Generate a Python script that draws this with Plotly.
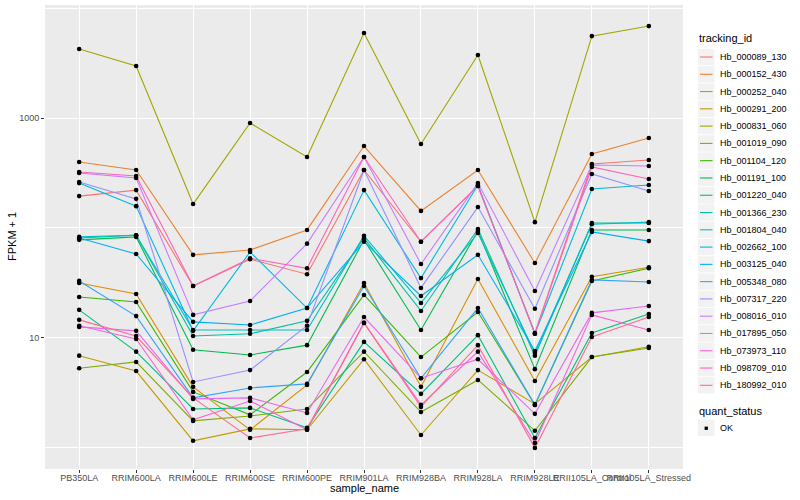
import plotly.graph_objects as go

samples = ["PB350LA", "RRIM600LA", "RRIM600LE", "RRIM600SE", "RRIM600PE", "RRIM901LA",
           "RRIM928BA", "RRIM928LA", "RRIM928LE", "RRII105LA_Control", "RRII105LA_Stressed"]

tracking_ids = ["Hb_000089_130", "Hb_000152_430", "Hb_000252_040", "Hb_000291_200", "Hb_000831_060",
                "Hb_001019_090", "Hb_001104_120", "Hb_001191_100", "Hb_001220_040", "Hb_001366_230",
                "Hb_001804_040", "Hb_002662_100", "Hb_003125_040", "Hb_005348_080", "Hb_007317_220",
                "Hb_008016_010", "Hb_017895_050", "Hb_073973_110", "Hb_098709_010", "Hb_180992_010"]

quant_status = ["OK"]

# FPKM + 1 per tracking_id, in sample order
Hb_000089_130 = [195, 221, 29.7, 52, 38, 337, 75, 241, 11.1, 382, 415]
Hb_000152_430 = [398, 337, 57, 63, 96, 556, 143, 337, 48, 471, 658]
Hb_000252_040 = [31.6, 25.1, 3.59, 1.46, 3.74, 31.6, 3.59, 34.4, 4.06, 36, 44]
Hb_000291_200 = [6.9, 5.0, 1.16, 1.49, 1.46, 6.4, 1.31, 5.1, 2.51, 6.7, 8.3]
Hb_000831_060 = [4240, 2970, 165, 902, 442, 5930, 581, 3740, 113, 5560, 6860]
Hb_001019_090 = [5.3, 6.05, 1.76, 1.95, 2.26, 7.5, 2.12, 4.15, 1.43, 6.7, 8.1]
Hb_001104_120 = [23.6, 21.2, 3.23, 2.0, 4.9, 24.6, 6.7, 17.2, 2.46, 33, 43]
Hb_001191_100 = [78, 83, 7.8, 7.0, 8.6, 78, 11.8, 94, 5.2, 96, 96]
Hb_001220_040 = [18, 7.5, 2.26, 2.31, 1.52, 9.2, 3.10, 10.6, 1.23, 11.1, 16.5]
Hb_001366_230 = [81, 86, 10.4, 10.9, 14.3, 81, 17.6, 98, 6.9, 111, 111]
Hb_001804_040 = [83, 86, 11.8, 11.8, 11.8, 85, 20.8, 90, 7.3, 108, 113]
Hb_002662_100 = [256, 158, 11.6, 60.5, 18.7, 221, 35, 246, 10.9, 226, 246]
Hb_003125_040 = [81, 58, 14.0, 13.1, 18.7, 75, 24.1, 57, 7.6, 92, 76]
Hb_005348_080 = [33, 15.8, 2.85, 3.51, 3.82, 29.7, 4.3, 18.7, 2.46, 33.7, 32.3]
Hb_007317_220 = [262, 184, 3.98, 5.1, 12.9, 337, 28.5, 155, 18.4, 310, 217]
Hb_008016_010 = [316, 285, 16.2, 21.7, 72, 442, 47, 256, 26.7, 374, 366]
Hb_017895_050 = [12.6, 11.6, 2.79, 2.85, 2.08, 15.5, 4.3, 6.4, 2.04, 16.9, 19.5]
Hb_073973_110 = [12.9, 9.8, 1.80, 2.67, 1.46, 13.7, 2.46, 7.5, 1.11, 16.2, 11.8]
Hb_098709_010 = [323, 297, 29.7, 53, 43, 442, 75, 241, 10.9, 359, 279]
Hb_180992_010 = [14.6, 10.4, 2.85, 1.23, 1.49, 13.7, 2.36, 8.6, 1.0, 10.2, 15.5]

series = [Hb_000089_130, Hb_000152_430, Hb_000252_040, Hb_000291_200, Hb_000831_060,
          Hb_001019_090, Hb_001104_120, Hb_001191_100, Hb_001220_040, Hb_001366_230,
          Hb_001804_040, Hb_002662_100, Hb_003125_040, Hb_005348_080, Hb_007317_220,
          Hb_008016_010, Hb_017895_050, Hb_073973_110, Hb_098709_010, Hb_180992_010]

colors = ["#F8766D", "#EA8331", "#D89000", "#C09B00", "#A3A500", "#7CAE00", "#39B600",
          "#00BB4E", "#00BF7D", "#00C1A3", "#00BFC4", "#00BAE0", "#00B0F6", "#35A2FF",
          "#9590FF", "#C77CFF", "#E76BF3", "#FA62DB", "#FF62BC", "#FF6C91"]

FONT = "Liberation Sans, Arial, sans-serif"
W, H = 800, 500
L, R, T, B = 45, 683, 5, 469   # panel edges in pixels


def px(xp):
    return (xp - L) / (R - L)


def py(yp):
    return (B - yp) / (B - T)


fig = go.Figure()
for name, vals, col in zip(tracking_ids, series, colors):
    fig.add_trace(go.Scatter(x=samples, y=vals, mode="lines", name=name, showlegend=False,
                             line=dict(color=col, width=1.1)))

all_x, all_y = [], []
for vals in series:
    all_x += samples
    all_y += vals
fig.add_trace(go.Scatter(x=all_x, y=all_y, mode="markers", name=quant_status[0], showlegend=False,
                         marker=dict(color="black", size=4.6, symbol="circle")))

# manual ggplot-style legend
shapes, annotations = [], []
annotations.append(dict(text="tracking_id", x=px(697), y=py(38), xref="paper", yref="paper",
                        xanchor="left", yanchor="middle", showarrow=False,
                        font=dict(size=11, color="black", family=FONT)))
step = 17.28
for i, (name, col) in enumerate(zip(tracking_ids, colors)):
    yc = 57 + step * i
    shapes.append(dict(type="rect", xref="paper", yref="paper", x0=px(698), x1=px(714.5),
                       y0=py(yc - 8.2), y1=py(yc + 8.2), fillcolor="#F2F2F2", line=dict(width=0),
                       layer="below"))
    shapes.append(dict(type="line", xref="paper", yref="paper", x0=px(700), x1=px(712.5),
                       y0=py(yc), y1=py(yc), line=dict(color=col, width=1.1)))
    annotations.append(dict(text=name, x=px(717.5), y=py(yc), xref="paper", yref="paper",
                            xanchor="left", yanchor="middle", showarrow=False,
                            font=dict(size=9, color="black", family=FONT)))

annotations.append(dict(text="quant_status", x=px(697), y=py(411), xref="paper", yref="paper",
                        xanchor="left", yanchor="middle", showarrow=False,
                        font=dict(size=11, color="black", family=FONT)))
shapes.append(dict(type="rect", xref="paper", yref="paper", x0=px(698), x1=px(714.5),
                   y0=py(428 - 8.2), y1=py(428 + 8.2), fillcolor="#F2F2F2", line=dict(width=0),
                   layer="below"))
shapes.append(dict(type="rect", xref="paper", yref="paper", x0=px(704.6), x1=px(707.9),
                   y0=py(429.9), y1=py(426.6), fillcolor="black", line=dict(width=0)))
annotations.append(dict(text=quant_status[0], x=px(717.5), y=py(428), xref="paper", yref="paper",
                        xanchor="left", yanchor="middle", showarrow=False,
                        font=dict(size=9, color="black", family=FONT)))

# axis titles
annotations.append(dict(text="sample_name", x=px(364), y=py(488), xref="paper", yref="paper",
                        xanchor="center", yanchor="middle", showarrow=False,
                        font=dict(size=11, color="black", family=FONT)))
annotations.append(dict(text="FPKM + 1", x=px(12), y=py(237), xref="paper", yref="paper",
                        xanchor="center", yanchor="middle", showarrow=False, textangle=-90,
                        font=dict(size=11, color="black", family=FONT)))

fig.update_layout(
    width=W, height=H,
    margin=dict(l=L, r=W - R, t=T, b=H - B, autoexpand=False),
    paper_bgcolor="white", plot_bgcolor="#EBEBEB",
    font=dict(family=FONT, color="black"),
    showlegend=False,
    shapes=shapes, annotations=annotations,
)

fig.update_xaxes(
    type="category", categoryorder="array", categoryarray=samples,
    range=[-0.6, len(samples) - 0.4], automargin=False,
    showgrid=True, gridcolor="white", gridwidth=1.1,
    ticks="outside", ticklen=3, tickcolor="#333333", tickwidth=1,
    tickfont=dict(size=9, color="#4D4D4D"), tickangle=0, ticklabelstandoff=-3,
    zeroline=False, showline=False,
)

fig.update_yaxes(
    type="log", range=[-0.192, 4.028], automargin=False,
    tickmode="array", tickvals=[10, 1000], ticktext=["10", "1000"],
    showgrid=True, gridcolor="white", gridwidth=1.1,
    minor=dict(tickmode="array", tickvals=[1, 100, 10000], showgrid=True,
               gridcolor="white", gridwidth=0.55, ticks=""),
    ticks="outside", ticklen=3, tickcolor="#333333", tickwidth=1,
    tickfont=dict(size=9, color="#4D4D4D"),
    zeroline=False, showline=False,
)

fig.write_html("out.html", config={"displayModeBar": False},
               post_script="document.body.style.margin='0';document.body.style.overflow='hidden';")
